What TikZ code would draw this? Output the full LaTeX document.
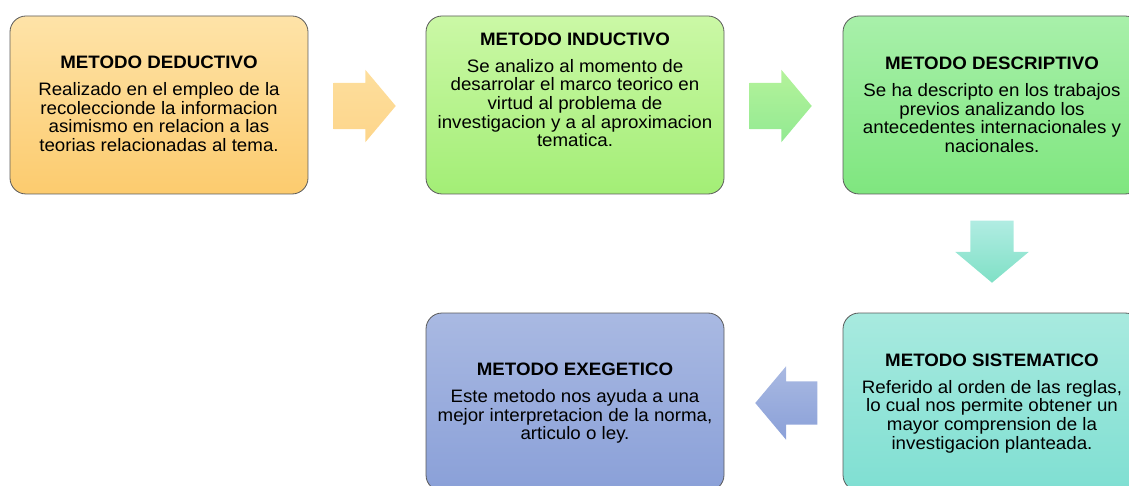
\documentclass[tikz,border=0pt]{standalone}
\usepackage{fontspec}
\setmainfont{Liberation Sans}[FakeStretch=1.04]
\usetikzlibrary{calc}
\usetikzlibrary{shapes.arrows}
\definecolor{naranjaA}{HTML}{FEE3A8}
\definecolor{naranjaB}{HTML}{FCCB6E}
\definecolor{limaA}{HTML}{CBF8A6}
\definecolor{limaB}{HTML}{A3EE76}
\definecolor{verdeA}{HTML}{A8F0AA}
\definecolor{verdeB}{HTML}{7FE67F}
\definecolor{aguaA}{HTML}{A8EADF}
\definecolor{aguaB}{HTML}{7FDFD2}
\definecolor{azulA}{HTML}{A9B9E2}
\definecolor{azulB}{HTML}{8AA0D8}
\definecolor{borde}{HTML}{5A5A5A}
\newcommand*{\bw }{298}
\newcommand*{\bh }{178}
\newcommand*{\cuerpo}{\fontsize{18}{18.7}\selectfont}
% astil vertical (flecha horizontal) y astil horizontal (flecha vertical)
\newcommand*{\astilv}[2]{\rule[-#2pt]{0pt}{#1pt}}
\newcommand*{\astilh}[1]{\hbox to #1pt{}}

\begin{document}
\begin{tikzpicture}[x=1pt, y=-1pt,
    metodo/.style = {draw=borde, line width=0.8pt, rounded corners=16pt, inner sep=0pt,
                     minimum width=\bw pt, minimum height=\bh pt},
    texto/.style  = {align=center, inner sep=0pt, font=\cuerpo},
    flecha/.style = {single arrow, draw=none, inner sep=0pt, minimum height=62pt, anchor=tip,
                     single arrow head extend=13pt, single arrow tip angle=100}]
    \useasboundingbox (0,0) rectangle (1129,486);
    % cajas
    \node [metodo, top color=naranjaA, bottom color=naranjaB] (deductivo)   at ( 159,105) {};
    \node [metodo, top color=limaA,    bottom color=limaB]    (inductivo)   at ( 575,105) {};
    \node [metodo, top color=verdeA,   bottom color=verdeB]   (descriptivo) at ( 992,105) {};
    \node [metodo, top color=aguaA,    bottom color=aguaB]    (sistematico) at ( 992,402) {};
    \node [metodo, top color=azulA,    bottom color=azulB]    (exegetico)   at ( 575,402) {};
    % textos
    \node [texto] (deductivo-t) at ($(deductivo)+(0,-1)$) {\textbf{METODO DEDUCTIVO}\\[8pt]
        Realizado en el empleo de la\\recoleccionde la informacion\\asimismo en relacion a las\\teorias relacionadas al tema.};
    \node [texto] (inductivo-t) at ($(inductivo)+(0,-15)$) {\textbf{METODO INDUCTIVO}\\[8pt]
        Se analizo al momento de\\desarrolar el marco teorico en\\virtud al problema de\\investigacion y a al aproximacion\\tematica.};
    \node [texto] (descriptivo-t) at ($(descriptivo)+(0,0)$) {\textbf{METODO DESCRIPTIVO}\\[8pt]
        Se ha descripto en los trabajos\\previos analizando los\\antecedentes internacionales y\\nacionales.};
    \node [texto] (sistematico-t) at ($(sistematico)+(0,1.5)$) {\textbf{METODO SISTEMATICO}\\[8pt]
        Referido al orden de las reglas,\\lo cual nos permite obtener un\\mayor comprension de la\\investigacion planteada.};
    \node [texto] (exegetico-t) at ($(exegetico)+(0,1.5)$) {\textbf{METODO EXEGETICO}\\[8pt]
        Este metodo nos ayuda a una\\mejor interpretacion de la norma,\\articulo o ley.};
    % flechas
    \node [flecha, top color=naranjaA!80!naranjaB, bottom color=naranjaB!80!white] (f1) at (396,106) {\astilv{46}{23}};
    \node [flecha, top color=limaA!70!verdeB, bottom color=verdeB!85!white] (f2) at (812,106) {\astilv{46}{23}};
    \node [flecha, shape border rotate=270, single arrow head extend=15pt,
           top color=aguaA!90!white, bottom color=aguaB!85!verdeB] (f3) at (992,283) {\astilh{43}};
    \node [flecha, shape border rotate=180, single arrow head extend=15pt,
           top color=azulA, bottom color=azulB] (f4) at (755,403) {\astilv{43}{21.5}};
\end{tikzpicture}
\end{document}
